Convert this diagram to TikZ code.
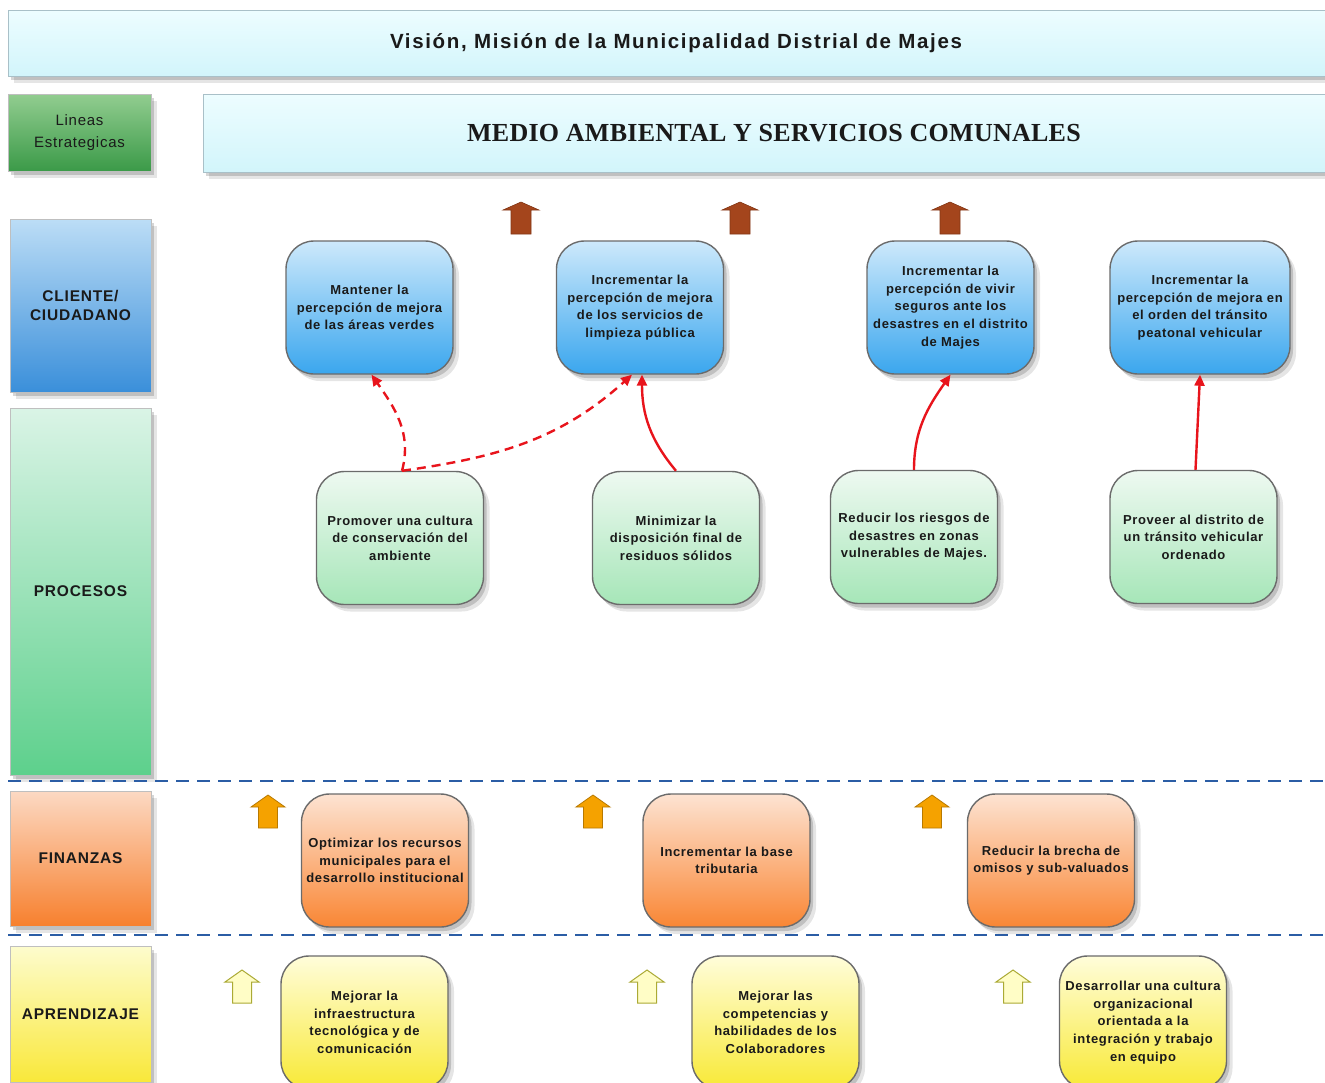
\documentclass[tikz,border=0pt]{standalone}
\usepackage{fontspec}
\setmainfont[LetterSpace=5]{Liberation Sans}
\newfontfamily\titlefont[LetterSpace=8]{Liberation Sans}
\newfontfamily\serifbold[LetterSpace=1]{Liberation Serif}
\usetikzlibrary{shadows,arrows.meta}
\definecolor{cliTop}{HTML}{CDE9FB}
\definecolor{cliBot}{HTML}{3AA6EE}
\definecolor{proTop}{HTML}{EEF9F1}
\definecolor{proBot}{HTML}{A6E6B8}
\definecolor{finTop}{HTML}{FDE3D2}
\definecolor{finBot}{HTML}{F98634}
\definecolor{aprTop}{HTML}{FFFDDA}
\definecolor{aprBot}{HTML}{F8E936}
\definecolor{lcliTop}{HTML}{BCDDF6}
\definecolor{lcliBot}{HTML}{3A8FDA}
\definecolor{lproTop}{HTML}{DAF4E6}
\definecolor{lproBot}{HTML}{5DD08C}
\definecolor{lfinTop}{HTML}{FCD9C3}
\definecolor{lfinBot}{HTML}{F7802E}
\definecolor{laprTop}{HTML}{FDFCCD}
\definecolor{laprBot}{HTML}{F9E83A}
\definecolor{linTop}{HTML}{92CD90}
\definecolor{linBot}{HTML}{3B9A48}
\definecolor{banTop}{HTML}{EDFDFF}
\definecolor{banBot}{HTML}{D2F5FB}
\definecolor{banLine}{HTML}{A9C0C8}
\definecolor{redc}{HTML}{E8141C}
\definecolor{bluedash}{HTML}{2B5DA5}
\definecolor{brownar}{HTML}{A4451C}
\definecolor{orangear}{HTML}{F5A200}
\definecolor{yellowar}{HTML}{FFFDC6}
\definecolor{txt}{HTML}{1A1A1A}
\newcommand\blockup[7]{% style, x, ytop, half head, half shaft, head h, total h
  \draw[#1] (#2,#3) -- (#2+#4,#3+#6) -- (#2+#5,#3+#6) -- (#2+#5,#3+#7)
    -- (#2-#5,#3+#7) -- (#2-#5,#3+#6) -- (#2-#4,#3+#6) -- cycle;}
\begin{document}
\begin{tikzpicture}[x=1pt,y=-1pt,
  shad/.style={drop shadow={fill=black,opacity=0.10,shadow xshift=6pt,shadow yshift=-7pt},
               drop shadow={fill=black,opacity=0.16,shadow xshift=3pt,shadow yshift=-4pt}},
  obj/.style={shad, rounded corners=28pt, draw=black!58, line width=1.4pt,
    minimum width=167pt, minimum height=133pt, inner sep=0pt, align=center,
    text=txt, font=\fontsize{13}{17.6}\selectfont\bfseries},
  cli/.style={obj, top color=cliTop, bottom color=cliBot},
  pro/.style={obj, top color=proTop, bottom color=proBot},
  fin/.style={obj, top color=finTop, bottom color=finBot},
  apr/.style={obj, top color=aprTop, bottom color=aprBot},
  lane/.style={shad, draw=black!25, line width=0.6pt, minimum width=141pt, inner sep=0pt,
    align=center, text=txt, font=\fontsize{15.5}{19}\selectfont\bfseries},
  banner/.style={shad, draw=banLine, line width=1pt, top color=banTop, bottom color=banBot,
    inner sep=0pt, text=txt},
  rel/.style={draw=redc, line width=2.4pt, -{Triangle[length=11pt,width=10pt]}},
  reldash/.style={rel, dash pattern=on 9pt off 6pt},
  sep/.style={draw=bluedash, line width=2.6pt, dash pattern=on 13pt off 8pt},
  brownstyle/.style={fill=brownar, draw=brownar!80!black, line width=0.6pt},
  orangestyle/.style={fill=orangear, draw=orangear!75!black, line width=0.8pt},
  yellowstyle/.style={fill=yellowar, draw=yellowar!45!black!60!yellow, line width=1pt}
]
\clip (0,0) rectangle (1325,1082);
\fill[white] (0,0) rectangle (1325,1082);

% banners
\node[banner, minimum width=1336pt, minimum height=66pt,
  font=\titlefont\fontsize{20.5}{24}\selectfont\bfseries] (vision) at (676,43)
  {Visión, Misión de la Municipalidad Distrial de Majes};
\node[banner, minimum width=1142pt, minimum height=78pt,
  font=\serifbold\fontsize{26}{30}\selectfont\bfseries] (medio) at (774,133)
  {MEDIO AMBIENTAL Y SERVICIOS COMUNALES};
\node[shad, draw=black!25, line width=0.6pt, top color=linTop, bottom color=linBot,
  minimum width=143pt, minimum height=77pt, inner sep=0pt, align=center, text=txt,
  font=\fontsize{15}{22}\selectfont] (lineas) at (79.5,132.5) {Lineas\\Estrategicas};

% lanes
\node[lane, top color=lcliTop, bottom color=lcliBot, minimum height=173pt] (lcli) at (80.5,305.5) {CLIENTE/\\CIUDADANO};
\node[lane, top color=lproTop, bottom color=lproBot, minimum height=367pt] (lpro) at (80.5,591.5) {PROCESOS};
\node[lane, top color=lfinTop, bottom color=lfinBot, minimum height=135pt] (lfin) at (80.5,858.5) {FINANZAS};
\node[lane, top color=laprTop, bottom color=laprBot, minimum height=136pt] (lapr) at (80.5,1014) {APRENDIZAJE};

% separators
\draw[sep] (8,781) -- (1325,781);
\draw[sep] (8,935) -- (1325,935);

% brown arrows
\blockup{brownstyle}{521}{202}{18}{10}{8}{32}
\blockup{brownstyle}{740}{202}{18}{10}{8}{32}
\blockup{brownstyle}{950}{202}{18}{10}{8}{32}
% orange arrows
\blockup{orangestyle}{268}{795}{17}{9.5}{12}{33}
\blockup{orangestyle}{593}{795}{17}{9.5}{12}{33}
\blockup{orangestyle}{932}{795}{17}{9.5}{12}{33}
% yellow arrows
\blockup{yellowstyle}{242}{970}{17}{9.5}{12}{33}
\blockup{yellowstyle}{647}{970}{17}{9.5}{12}{33}
\blockup{yellowstyle}{1013}{970}{17}{9.5}{12}{33}

% cliente
\node[cli] (c1) at (369.5,307.5) {Mantener la\\percepción de mejora\\de las áreas verdes};
\node[cli] (c2) at (640,307.5) {Incrementar la\\percepción de mejora\\de los servicios de\\limpieza pública};
\node[cli] (c3) at (950.5,307.5) {Incrementar la\\percepción de vivir\\seguros ante los\\desastres en el distrito\\de Majes};
\node[cli, minimum width=180pt] (c4) at (1200,307.5) {Incrementar la\\percepción de mejora en\\el orden del tránsito\\peatonal vehicular};

% procesos
\node[pro] (p1) at (400,538) {Promover una cultura\\de conservación del\\ambiente};
\node[pro] (p2) at (676,538) {Minimizar la\\disposición final de\\residuos sólidos};
\node[pro] (p3) at (914,537) {Reducir los riesgos de\\desastres en zonas\\vulnerables de Majes.};
\node[pro] (p4) at (1193.5,537) {Proveer al distrito de\\un tránsito vehicular\\ordenado};

% finanzas
\node[fin] (f1) at (385,860.5) {Optimizar los recursos\\municipales para el\\desarrollo institucional};
\node[fin] (f2) at (726.5,860.5) {Incrementar la base\\tributaria};
\node[fin] (f3) at (1051,860.5) {Reducir la brecha de\\omisos y sub-valuados};

% aprendizaje
\node[apr] (a1) at (364.5,1022.5) {Mejorar la\\infraestructura\\tecnológica y de\\comunicación};
\node[apr] (a2) at (775.5,1022.5) {Mejorar las\\competencias y\\habilidades de los\\Colaboradores};
\node[apr] (a3) at (1143,1022.5) {Desarrollar una cultura\\organizacional\\orientada a la\\integración y trabajo\\en equipo};

% relations
\draw[reldash] ([xshift=2pt]p1.north) to[out=75,in=-55] ([xshift=2pt]c1.south);
\draw[reldash] ([xshift=2pt]p1.north) to[out=8,in=-138] ([xshift=-8pt]c2.south);
\draw[rel] (p2.north) to[out=130,in=-90] ([xshift=2pt]c2.south);
\draw[rel] (p3.north) to[out=90,in=-125] (c3.south);
\draw[rel] ([xshift=2pt]p4.north) -- ([xshift=0pt]c4.south);
\end{tikzpicture}
\end{document}
